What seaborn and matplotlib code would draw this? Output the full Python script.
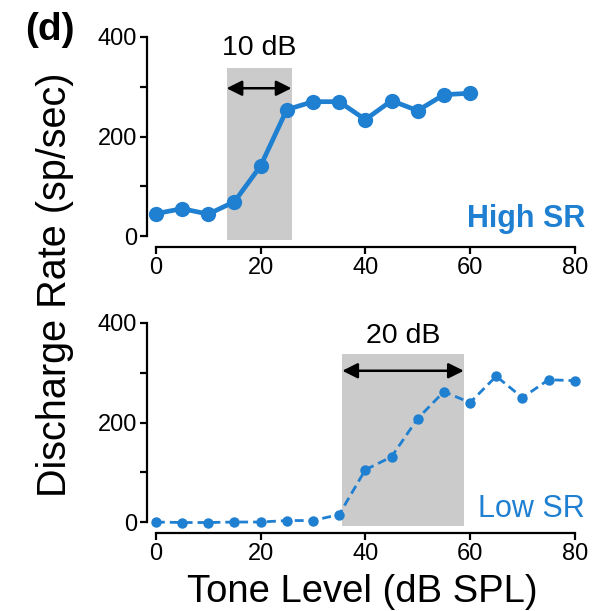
import numpy as np
import pandas as pd
import matplotlib
matplotlib.use("Agg")
import matplotlib.pyplot as plt
import seaborn as sns

# ---- data ----
high_level = [0, 5, 10, 15, 20, 25, 30, 35, 40, 45, 50, 55, 60]
high_rate = [45, 55, 44, 69, 141, 254, 270, 270, 234, 272, 252, 284, 287]
low_level = [0, 5, 10, 15, 20, 25, 30, 35, 40, 45, 50, 55, 60, 65, 70, 75, 80]
low_rate = [0, -1, -1, 0, 0, 3, 3, 15, 105, 131, 208, 262, 240, 293, 250, 286, 284]
high_band = (13.5, 25.9)
low_band = (35.6, 58.8)
high_band_label = "10 dB"
low_band_label = "20 dB"
x_ticks = [0, 20, 40, 60, 80]
y_ticks = [0, 200, 400]
y_minor = [100, 300]

sns.set_style("ticks")
plt.rcParams['font.family'] = ['Liberation Sans', 'DejaVu Sans']
plt.rcParams['text.color'] = 'black'
plt.rcParams['axes.labelcolor'] = 'black'
plt.rcParams['xtick.color'] = 'black'
plt.rcParams['ytick.color'] = 'black'

BLUE = "#1f7fd0"
GRAY = "#cbcbcb"

fig = plt.figure(figsize=(5.97, 6.11), dpi=100)
W, H = 597, 611

def make_ax(top_px, bottom_px):
    left = 147 / W
    width = 433 / W
    return fig.add_axes([left, 1 - bottom_px / H, width, (bottom_px - top_px) / H])

ax1 = make_ax(34.5, 242)
ax2 = make_ax(320.5, 528)

df_high = pd.DataFrame({"level": high_level, "rate": high_rate})
df_low = pd.DataFrame({"level": low_level, "rate": low_rate})

for ax, band in [(ax1, high_band), (ax2, low_band)]:
    ax.add_patch(plt.Rectangle((band[0], -8), band[1] - band[0], 346,
                               facecolor=GRAY, edgecolor="none", zorder=0))

sns.lineplot(data=df_high, x="level", y="rate", ax=ax1, color=BLUE,
             lw=3.4, marker="o", markersize=11, markeredgewidth=0, zorder=3)
sns.lineplot(data=df_low, x="level", y="rate", ax=ax2, color=BLUE,
             lw=2.0, marker="o", markersize=7.5, markeredgewidth=0,
             dashes=False, zorder=3)
ax2.lines[-1].set_linestyle((0, (3.2, 1.8)))

# arrows and band labels
ax1.annotate("", xy=(high_band[0], 297), xytext=(high_band[1], 297),
             arrowprops=dict(arrowstyle="<|-|>", color="black", lw=1.8,
                             mutation_scale=23, shrinkA=0, shrinkB=0))
ax1.text(np.mean(high_band), 378, high_band_label, ha="center", va="center",
         fontsize=20.5, color="black")
ax2.annotate("", xy=(low_band[0], 304), xytext=(low_band[1], 304),
             arrowprops=dict(arrowstyle="<|-|>", color="black", lw=1.8,
                             mutation_scale=23, shrinkA=0, shrinkB=0))
ax2.text(np.mean(low_band), 374, low_band_label, ha="center", va="center",
         fontsize=20.5, color="black")

ax1.text(82, 34, "High SR", ha="right", va="center", fontsize=22,
         fontweight="bold", color=BLUE)
ax2.text(82, 26, "Low SR", ha="right", va="center", fontsize=22, color=BLUE)

for ax in (ax1, ax2):
    ax.set_xlim(-1.7, 81)
    ax.set_ylim(-12, 405)
    sns.despine(ax=ax)
    ax.spines['left'].set_bounds(0, 400)
    ax.spines['bottom'].set_bounds(0, 80)
    ax.spines['bottom'].set_position(('outward', 3.6))
    for s in ('left', 'bottom'):
        ax.spines[s].set_linewidth(1.6)
        ax.spines[s].set_color("black")
    ax.set_xticks(x_ticks)
    ax.set_yticks(y_ticks)
    ax.set_yticks(y_minor, minor=True)
    ax.tick_params(axis='both', which='both', direction='out', length=5,
                   width=1.6, labelsize=17, pad=2, colors="black")
    ax.set_xlabel("")
    ax.set_ylabel("")
    ax.patch.set_alpha(0)

fig.text(55 / W, 1 - 285 / H, "Discharge Rate (sp/sec)", rotation=90,
         ha="center", va="center", fontsize=28.5)
fig.text(362 / W, 1 - 592 / H, "Tone Level (dB SPL)", ha="center",
         va="center", fontsize=27.5)
fig.text(50 / W, 1 - 30 / H, "(d)", ha="center", va="center", fontsize=28,
         fontweight="bold")

fig.savefig("out.png", dpi=100)
